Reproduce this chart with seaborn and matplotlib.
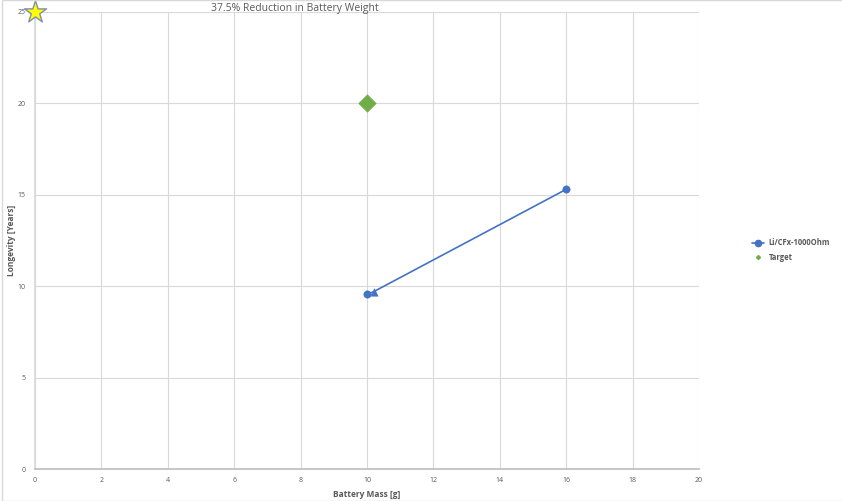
import matplotlib
matplotlib.use("Agg")
import matplotlib.pyplot as plt
import seaborn as sns
import pandas as pd
from matplotlib.lines import Line2D
from matplotlib.patches import Rectangle

# Data
series_mass = [10.0, 10.2, 16.0]
series_life = [9.55, 9.7, 15.3]
series_markers = ["o", "^", "o"]
target_mass = [10.0]
target_life = [20.0]
star_mass = [0.0]
star_life = [25.0]
x_ticks = [0, 2, 4, 6, 8, 10, 12, 14, 16, 18, 20]
y_ticks = [0, 5, 10, 15, 20, 25]

sns.set_theme(style="white")
plt.rcParams['font.family'] = ['Open Sans', 'DejaVu Sans']

fig = plt.figure(figsize=(8.42, 5.01), dpi=100)
ax = fig.add_axes([35/842, 32/501, 664/842, 457/501])

blue = "#4472C4"
df = pd.DataFrame({"mass": series_mass, "life": series_life})
sns.lineplot(data=df, x="mass", y="life", ax=ax, color=blue, linewidth=1.2, sort=False)
for m, l, mk in zip(series_mass, series_life, series_markers):
    sns.scatterplot(x=[m], y=[l], ax=ax, marker=mk, s=28, color=blue, edgecolor=blue, zorder=5)

sns.scatterplot(x=target_mass, y=target_life, ax=ax, marker="D", s=75,
                color="#70AD47", edgecolor="#70AD47", zorder=5)
sns.scatterplot(x=star_mass, y=star_life, ax=ax, marker="*", s=280,
                color="#FFFF00", edgecolor="#7F8FA6", linewidth=1, zorder=6, clip_on=False)

ax.set_xlim(0, 20)
ax.set_ylim(0, 25)
ax.set_xticks(x_ticks)
ax.set_yticks(y_ticks)
ax.grid(True, color="#D9D9D9", linewidth=0.8)
ax.set_axisbelow(True)
for s in ["top", "right"]:
    ax.spines[s].set_visible(False)
ax.spines["left"].set_color("#D9D9D9")
ax.spines["bottom"].set_color("#BFBFBF")
ax.tick_params(axis="x", labelsize=5, labelcolor="#595959", length=0, pad=6)
ax.tick_params(axis="y", labelsize=5, labelcolor="#595959", length=0, pad=7)

ax.set_xlabel("Battery Mass [g]", fontsize=6, color="#595959", fontweight="bold", labelpad=4)
ax.set_ylabel("Longevity [Years]", fontsize=6, color="#595959", fontweight="bold", labelpad=1)

fig.text(295/842, 1 - 8/501, "37.5% Reduction in Battery Weight", ha="center", va="center",
         fontsize=7.5, color="#595959")

handles = [
    Line2D([0], [0], color=blue, marker="o", markersize=4.5, linewidth=1.2, label="Li/CFx-1000Ohm"),
    Line2D([0], [0], color="#70AD47", marker="D", markersize=2, linewidth=0, label="Target"),
]
fig.legend(handles=handles, loc="center left", bbox_to_anchor=(745/842, 1 - 250/501),
           frameon=False, labelcolor="#595959", handlelength=1.6, handletextpad=0.6,
           labelspacing=0.7, prop={"weight": "bold", "size": 5.5, "family": ["Open Sans"]})

fig.patches.append(Rectangle((2/842, 0), 1, 1, transform=fig.transFigure,
                             fill=False, edgecolor="#D9D9D9", linewidth=1))

fig.savefig("out.png", dpi=100)
